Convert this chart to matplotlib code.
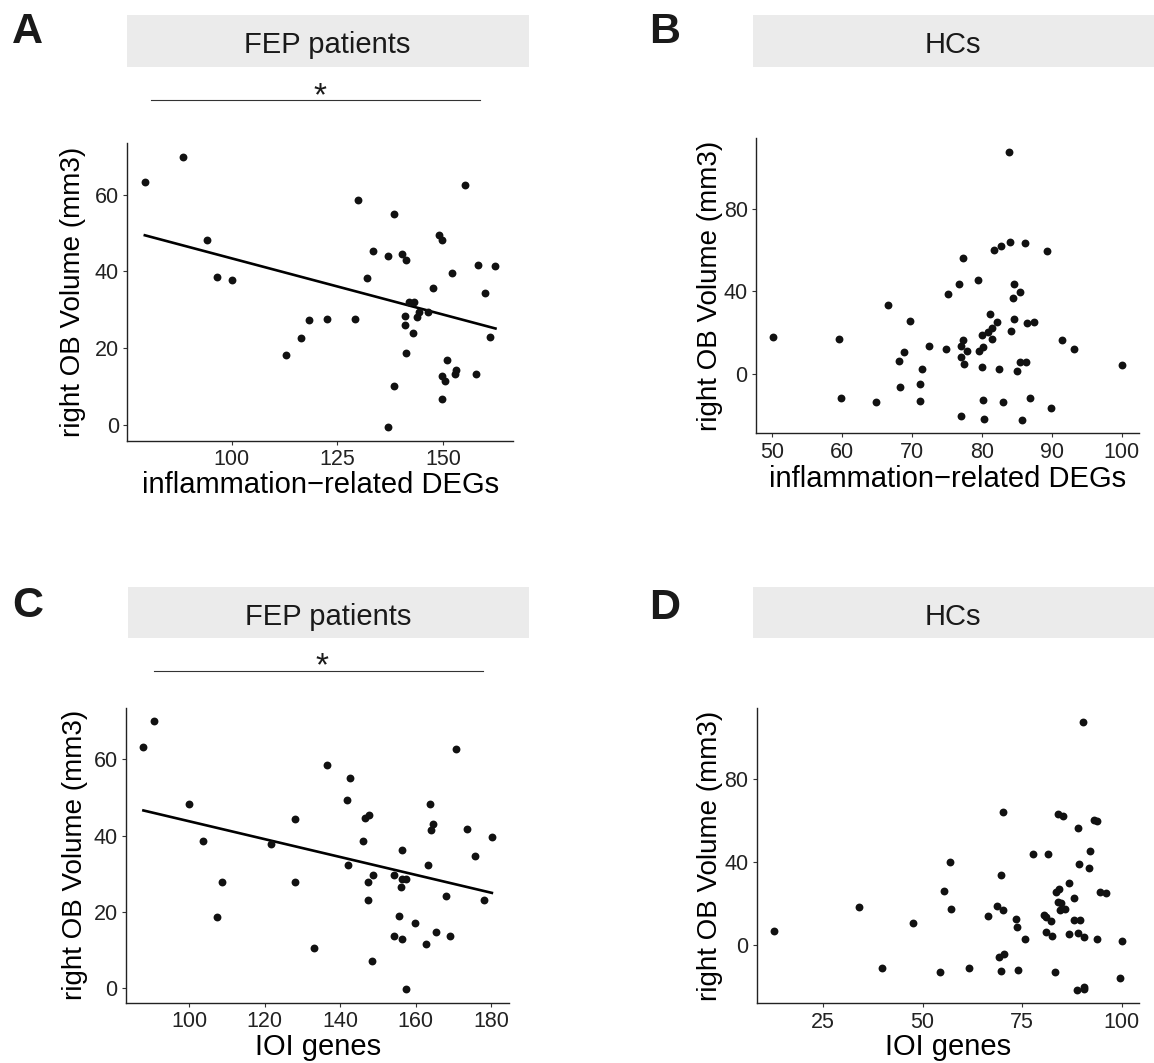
import numpy as np
import matplotlib
matplotlib.use('Agg')
import matplotlib.pyplot as plt
from matplotlib.patches import Rectangle
from matplotlib.lines import Line2D

plt.rcParams['font.family'] = ['Liberation Sans', 'DejaVu Sans']

# A: FEP patients, inflammation-related DEGs vs right OB volume
a_x = [79.5, 88.6, 94.3, 96.5, 100.0, 112.8, 116.5, 118.4, 122.6, 129.3, 129.8, 132.0,
       133.5, 136.9, 136.9, 138.4, 138.4, 140.4, 141.3, 141.1, 141.0, 141.3, 142.0, 143.1,
       143.0, 143.8, 144.3, 146.4, 147.6, 149.1, 149.7, 149.7, 150.5, 149.7, 150.9, 152.1,
       153.0, 152.9, 155.3, 157.9, 158.3, 160.0, 161.2, 162.4]
a_y = [63.2, 69.9, 48.1, 38.5, 37.7, 18.4, 22.7, 27.4, 27.6, 27.7, 58.5, 38.4,
       45.3, 44.0, -0.5, 55.0, 10.3, 44.6, 42.9, 28.4, 26.2, 18.9, 32.0, 32.1,
       23.9, 28.1, 29.4, 29.4, 35.8, 49.4, 48.1, 12.8, 11.5, 6.9, 16.9, 39.5,
       14.5, 13.3, 62.6, 13.3, 41.6, 34.4, 22.9, 41.4]

# B: HCs, inflammation-related DEGs
b_x = [50.2, 59.6, 59.9, 64.8, 66.6, 68.2, 68.3, 68.9, 69.7, 71.1, 71.2, 71.4, 72.5, 74.8,
       75.1, 76.7, 77.0, 77.0, 77.0, 77.3, 77.3, 77.4, 77.9, 79.4, 79.6, 80.0, 80.0, 80.1,
       80.2, 80.3, 80.9, 81.1, 81.5, 81.5, 81.7, 82.1, 82.4, 82.7, 83.0, 83.8, 84.0, 84.1,
       84.5, 84.6, 84.6, 85.0, 85.5, 85.5, 85.7, 86.2, 86.3, 86.5, 86.9, 87.5, 89.3, 89.9,
       91.4, 93.1, 100.0]
b_y = [18.0, 16.9, -11.4, -13.5, 33.5, 6.4, -6.4, 10.5, 25.6, -4.7, -13.2, 2.3, 13.4, 12.2,
       38.8, 43.8, -20.4, 13.8, 8.5, 16.4, 56.2, 4.7, 11.3, 45.6, 11.4, 3.5, 18.7, 13.2,
       -12.4, -21.7, 20.3, 29.3, 22.1, 17.1, 60.0, 25.3, 2.3, 62.1, -13.5, 107.7, 64.1, 20.8,
       37.0, 43.6, 26.7, 1.4, 39.9, 5.6, -22.2, 63.3, 6.0, 24.6, -11.6, 25.3, 59.7, -16.4,
       16.6, 11.9, 4.2]

# C: FEP patients, IOI genes
c_x = [87.8, 90.6, 100.0, 103.7, 107.3, 108.7, 121.5, 127.9, 128.1, 133.1, 136.6, 141.8,
       142.0, 142.7, 146.0, 146.5, 147.5, 147.3, 147.4, 148.3, 148.8, 154.3, 154.2, 155.6,
       156.0, 156.3, 157.3, 156.4, 156.4, 157.4, 159.8, 162.8, 163.2, 163.9, 164.1, 164.5,
       165.3, 168.1, 169.2, 170.7, 173.7, 175.7, 178.2, 180.2]
c_y = [63.3, 69.9, 48.2, 38.6, 18.6, 27.7, 37.8, 44.2, 27.7, 10.5, 58.6, 49.4,
       32.3, 55.1, 38.5, 44.7, 45.4, 23.0, 27.8, 7.0, 29.6, 29.6, 13.6, 19.0,
       26.4, 28.5, 28.5, 13.0, 36.1, -0.3, 17.1, 11.7, 32.3, 48.3, 41.5, 43.0,
       14.7, 24.1, 13.6, 62.7, 41.7, 34.5, 23.0, 39.7]

# D: HCs, IOI genes
d_x = [12.7, 34.1, 39.8, 47.5, 54.5, 55.3, 57.0, 57.2, 61.7, 66.5, 68.7, 69.2, 69.6, 69.8,
       70.1, 70.3, 70.4, 73.4, 73.8, 73.9, 75.7, 77.8, 80.4, 80.9, 80.9, 81.6, 82.2, 82.6,
       83.2, 83.5, 84.0, 84.2, 84.1, 84.7, 84.6, 85.2, 85.7, 86.9, 86.8, 88.1, 88.0, 88.8,
       89.0, 89.1, 89.4, 89.6, 90.3, 90.5, 90.6, 90.6, 91.9, 92.1, 93.1, 93.9, 93.8, 94.6,
       96.2, 99.6, 100.1]
d_y = [6.6, 18.2, -11.3, 10.6, -13.2, 25.8, 40.2, 17.1, -11.3, 13.7, 18.9, -6.1, -12.9, 33.7,
       16.6, 64.4, -4.5, 12.4, 8.7, -12.1, 2.6, 44.0, 14.2, 13.4, 6.1, 43.9, 11.5, 4.4,
       -13.2, 25.5, 63.2, 26.8, 20.6, 20.3, 16.8, 62.3, 17.4, 29.7, 5.0, 22.4, 11.9, -21.8,
       5.8, 56.6, 39.0, 11.9, 107.9, 3.7, -20.2, -21.3, 37.3, 45.6, 60.3, 59.8, 2.6, 25.6,
       25.0, -16.1, 1.8]

ylabel = 'right OB Volume (mm3)'
W, H = 1154, 1063

fig = plt.figure(figsize=(W / 100, H / 100), dpi=100)


def fig_box(l, t, r, b):
    return [l / W, 1 - b / H, (r - l) / W, (b - t) / H]


def expand(v, mult=0.05):
    lo, hi = min(v), max(v)
    d = (hi - lo) * mult
    return lo - d, hi + d


def panel(box, x, y, xticks, yticks, xlabel, ylab_x, xlab_y, fit=False):
    ax = fig.add_axes(fig_box(*box))
    ax.scatter(x, y, s=32, color='#111111', linewidths=0, zorder=3)
    if fit:
        k, b0 = np.polyfit(x, y, 1)
        xs = np.array([min(x), max(x)])
        ax.plot(xs, k * xs + b0, color='black', lw=1.9, zorder=2)
    ax.set_xlim(expand(x))
    ax.set_ylim(expand(y))
    ax.set_xticks(xticks)
    ax.set_yticks(yticks)
    for s in ['top', 'right']:
        ax.spines[s].set_visible(False)
    for s in ['left', 'bottom']:
        ax.spines[s].set_linewidth(1.0)
        ax.spines[s].set_color('#222222')
    ax.tick_params(length=3, width=0.8, color='#333333', labelsize=15.5,
                   labelcolor='#222222', pad=3)
    l, t, r, b = box
    ax.set_xlabel(xlabel, fontsize=21, va='center')
    ax.xaxis.set_label_coords(0.5, (b - xlab_y) / (b - t))
    ax.set_ylabel(ylabel, fontsize=20, va='center')
    ax.yaxis.set_label_coords((ylab_x - l) / (r - l), 0.5)
    return ax


panel((127.3, 143, 513, 440.7), a_x, a_y, [100, 125, 150], [0, 20, 40, 60],
      'inflammation\u2212related DEGs', 73, 485, fit=True)
panel((756, 138.3, 1139.3, 433.3), b_x, b_y, [50, 60, 70, 80, 90, 100], [0, 40, 80],
      'inflammation\u2212related DEGs', 710, 479)
panel((126, 708, 509.3, 1002.7), c_x, c_y, [100, 120, 140, 160, 180], [0, 20, 40, 60],
      'IOI genes', 75, 1046.7, fit=True)
panel((756.7, 708.3, 1139.3, 1003.3), d_x, d_y, [25, 50, 75, 100], [0, 40, 80],
      'IOI genes', 710, 1047)

# facet-like strips and panel letters
strips = [((126.7, 15, 528.6, 66.7), 'FEP patients'),
          ((752.6, 15, 1154, 66.7), 'HCs'),
          ((127.5, 586.7, 528.6, 638.3), 'FEP patients'),
          ((752.6, 586.7, 1154, 638.3), 'HCs')]
for (l, t, r, b), lab in strips:
    fig.add_artist(Rectangle((l / W, 1 - b / H), (r - l) / W, (b - t) / H,
                             transform=fig.transFigure, facecolor='#EBEBEB',
                             edgecolor='none'))
    fig.text((l + r) / 2 / W, 1 - (t + 38.3) / H, lab, fontsize=21,
             ha='center', va='baseline', color='#1a1a1a')

letters = [('A', 12, 43.3), ('B', 649, 43.3), ('C', 12.5, 617), ('D', 649, 619)]
for lab, x, y in letters:
    fig.text(x / W, 1 - y / H, lab, fontsize=31, fontweight='bold',
             ha='left', va='baseline', color='#1a1a1a')

# significance brackets
for x0, x1, y, xs in [(150.7, 480, 100, 320), (154, 483, 670.7, 322)]:
    fig.add_artist(Line2D([x0 / W, x1 / W], [1 - y / H, 1 - y / H],
                          transform=fig.transFigure, color='#333333', lw=0.8))
    fig.text(xs / W, 1 - (y + 5) / H, '*', fontsize=24, ha='center',
             va='baseline', color='#1a1a1a')

fig.savefig('out.png', dpi=100)
